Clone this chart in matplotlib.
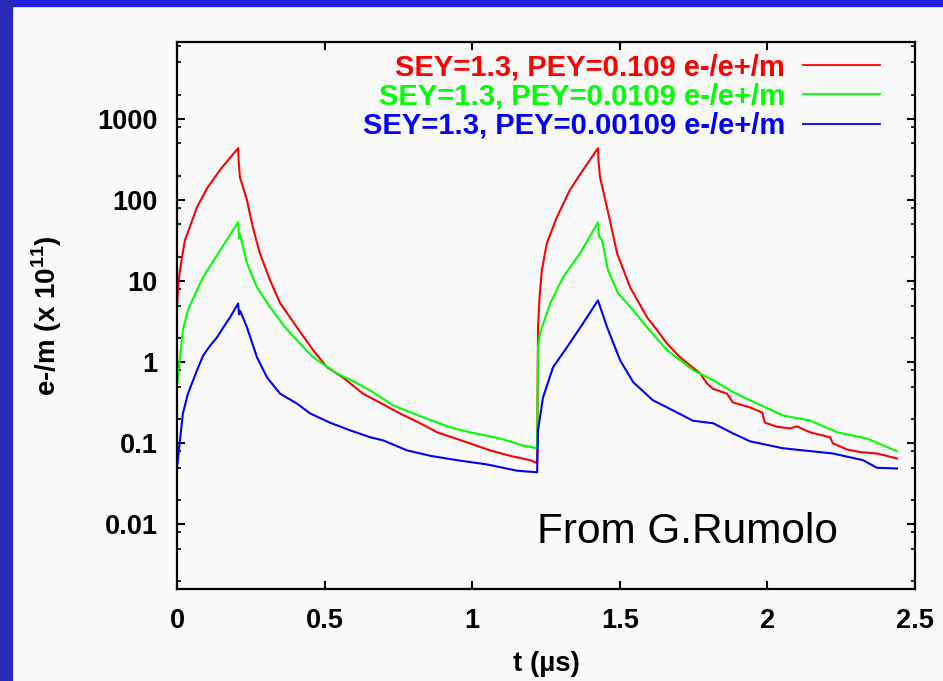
import matplotlib
matplotlib.use("Agg")
import matplotlib.pyplot as plt
from matplotlib.patches import Rectangle
from matplotlib.ticker import FixedLocator, LogLocator, NullFormatter

plt.rcParams['font.family'] = ['Liberation Sans', 'DejaVu Sans']
plt.rcParams['mathtext.fontset'] = 'custom'
plt.rcParams['mathtext.rm'] = 'Liberation Sans'
plt.rcParams['mathtext.bf'] = 'Liberation Sans:bold'

# ---- data ----
red_t = [0, 0.005, 0.017, 0.027, 0.068, 0.102, 0.146, 0.207, 0.209, 0.213, 0.237, 0.257,
         0.281, 0.315, 0.349, 0.406, 0.461, 0.508, 0.562, 0.630, 0.700, 0.755, 0.820,
         0.881, 0.982, 1.060, 1.130, 1.196, 1.220, 1.223, 1.228, 1.236, 1.253, 1.287,
         1.331, 1.375, 1.426, 1.428, 1.433, 1.457, 1.491, 1.535, 1.592, 1.626, 1.660,
         1.704, 1.772, 1.795, 1.816, 1.863, 1.883, 1.941, 1.982, 1.992, 2.033, 2.077,
         2.100, 2.144, 2.212, 2.222, 2.270, 2.314, 2.371, 2.405, 2.439]
red_v = [5, 10, 20, 32, 82, 140, 236, 436, 300, 192, 100, 46,
         22, 10.3, 5.4, 2.7, 1.41, 0.87, 0.65, 0.41, 0.30, 0.234, 0.18,
         0.137, 0.103, 0.082, 0.07, 0.062, 0.057, 2.7, 6.3, 13.7, 29.5, 62,
         133, 234, 436, 300, 192, 80, 22, 8.4, 3.6, 2.5, 1.7,
         1.15, 0.73, 0.55, 0.47, 0.41, 0.32, 0.278, 0.24, 0.18, 0.16, 0.153,
         0.162, 0.137, 0.119, 0.1, 0.084, 0.078, 0.075, 0.070, 0.065]

green_t = [0, 0.010, 0.020, 0.037, 0.088, 0.146, 0.207, 0.210, 0.213, 0.237, 0.271,
           0.315, 0.366, 0.406, 0.461, 0.542, 0.610, 0.654, 0.732, 0.833, 0.925,
           0.992, 1.094, 1.172, 1.220, 1.223, 1.230, 1.264, 1.308, 1.365, 1.426,
           1.429, 1.440, 1.460, 1.494, 1.545, 1.592, 1.660, 1.748, 1.816, 1.883,
           1.941, 2.053, 2.144, 2.236, 2.337, 2.439]
green_v = [0.52, 1.15, 2.5, 4.4, 11.2, 24, 53, 34, 38, 16.7, 8.4,
           4.8, 2.7, 1.87, 1.15, 0.73, 0.55, 0.45, 0.294, 0.21, 0.158,
           0.137, 0.115, 0.094, 0.087, 1.5, 2.3, 5.3, 11.2, 22, 53,
           36, 32, 13.7, 7.1, 4.4, 2.7, 1.41, 0.80, 0.6, 0.43,
           0.34, 0.22, 0.192, 0.137, 0.115, 0.080]

blue_t = [0, 0.010, 0.020, 0.037, 0.068, 0.088, 0.112, 0.136, 0.160, 0.180, 0.207,
          0.210, 0.214, 0.237, 0.271, 0.305, 0.349, 0.406, 0.451, 0.518, 0.586,
          0.654, 0.698, 0.779, 0.860, 0.949, 1.050, 1.152, 1.220, 1.223, 1.240,
          1.274, 1.321, 1.375, 1.426, 1.457, 1.501, 1.545, 1.612, 1.680, 1.748,
          1.816, 1.883, 1.941, 2.053, 2.222, 2.324, 2.371, 2.439]
blue_v = [0.05, 0.109, 0.234, 0.41, 0.80, 1.2, 1.6, 2.04, 2.8, 3.6, 5.3,
          3.9, 4.3, 2.7, 1.15, 0.65, 0.41, 0.31, 0.234, 0.18, 0.145,
          0.119, 0.109, 0.082, 0.07, 0.062, 0.055, 0.046, 0.044, 0.145, 0.37,
          0.87, 1.53, 3.0, 5.8, 2.7, 1.06, 0.57, 0.34, 0.255, 0.19,
          0.177, 0.133, 0.106, 0.087, 0.075, 0.062, 0.05, 0.049]

labels = ["SEY=1.3, PEY=0.109 e-/e+/m",
          "SEY=1.3, PEY=0.0109 e-/e+/m",
          "SEY=1.3, PEY=0.00109 e-/e+/m"]
colors = ["#ff0000", "#00ff00", "#0000ff"]

xticks = [0, 0.5, 1, 1.5, 2, 2.5]
xtick_labels = ["0", "0.5", "1", "1.5", "2", "2.5"]
yticks = [0.01, 0.1, 1, 10, 100, 1000]
ytick_labels = ["0.01", "0.1", "1", "10", "100", "1000"]

# ---- figure ----
W, H = 943, 681
fig = plt.figure(figsize=(W / 100, H / 100), dpi=100, facecolor="#fafafa")
# blue slide frame
fig.patches.append(Rectangle((0, 1 - 6 / H), 1, 6 / H, transform=fig.transFigure,
                             color="#2020dd", zorder=0))
fig.patches.append(Rectangle((0, 0), 12 / W, 1, transform=fig.transFigure,
                             color="#2a2ab8", zorder=0))

ax = fig.add_axes([177 / W, (H - 589) / H, (915 - 177) / W, (589 - 42) / H])
ax.set_facecolor("#fafafa")

for t, v, c, lab in zip([red_t, green_t, blue_t], [red_v, green_v, blue_v], colors, labels):
    ax.plot(t, v, color=c, lw=1.5, label=lab)

ax.set_yscale("log")
ax.set_xlim(0, 2.5)
ax.set_ylim(0.0016, 8900)

ax.xaxis.set_major_locator(FixedLocator(xticks))
ax.set_xticklabels(xtick_labels, fontsize=19.5, fontweight="bold")
ax.yaxis.set_major_locator(FixedLocator(yticks))
ax.set_yticklabels(ytick_labels, fontsize=19.5, fontweight="bold")
ax.yaxis.set_minor_locator(LogLocator(base=10, subs=[2, 5, 8], numticks=20))
ax.yaxis.set_minor_formatter(NullFormatter())

ax.tick_params(which="major", direction="in", length=6, width=1.5, top=True, right=True, pad=14)
ax.tick_params(which="minor", direction="in", length=3, width=1.2, top=True, right=True)
for s in ax.spines.values():
    s.set_linewidth(1.6)

ax.set_xlabel("t (\u00b5s)", fontsize=20, fontweight="bold", labelpad=12)
ax.set_ylabel(r"e-/m (x 10$^{\mathbf{11}}$)", fontsize=20, fontweight="bold", labelpad=24)

leg = ax.legend(loc="upper right", bbox_to_anchor=(0.9526, 0.979), frameon=False,
                markerfirst=False, handlelength=2.64, handletextpad=0.62,
                borderpad=0, borderaxespad=0, labelspacing=0.04,
                prop={"weight": "bold", "size": 21})
for txt, c in zip(leg.get_texts(), colors):
    txt.set_color(c)
for ln in leg.get_lines():
    ln.set_linewidth(1.3)

ax.text(0.488, 0.084, "From G.Rumolo", transform=ax.transAxes, fontsize=30.5,
        fontweight="normal", va="baseline", ha="left", color="black")

fig.savefig("out.png", dpi=100, facecolor=fig.get_facecolor())
